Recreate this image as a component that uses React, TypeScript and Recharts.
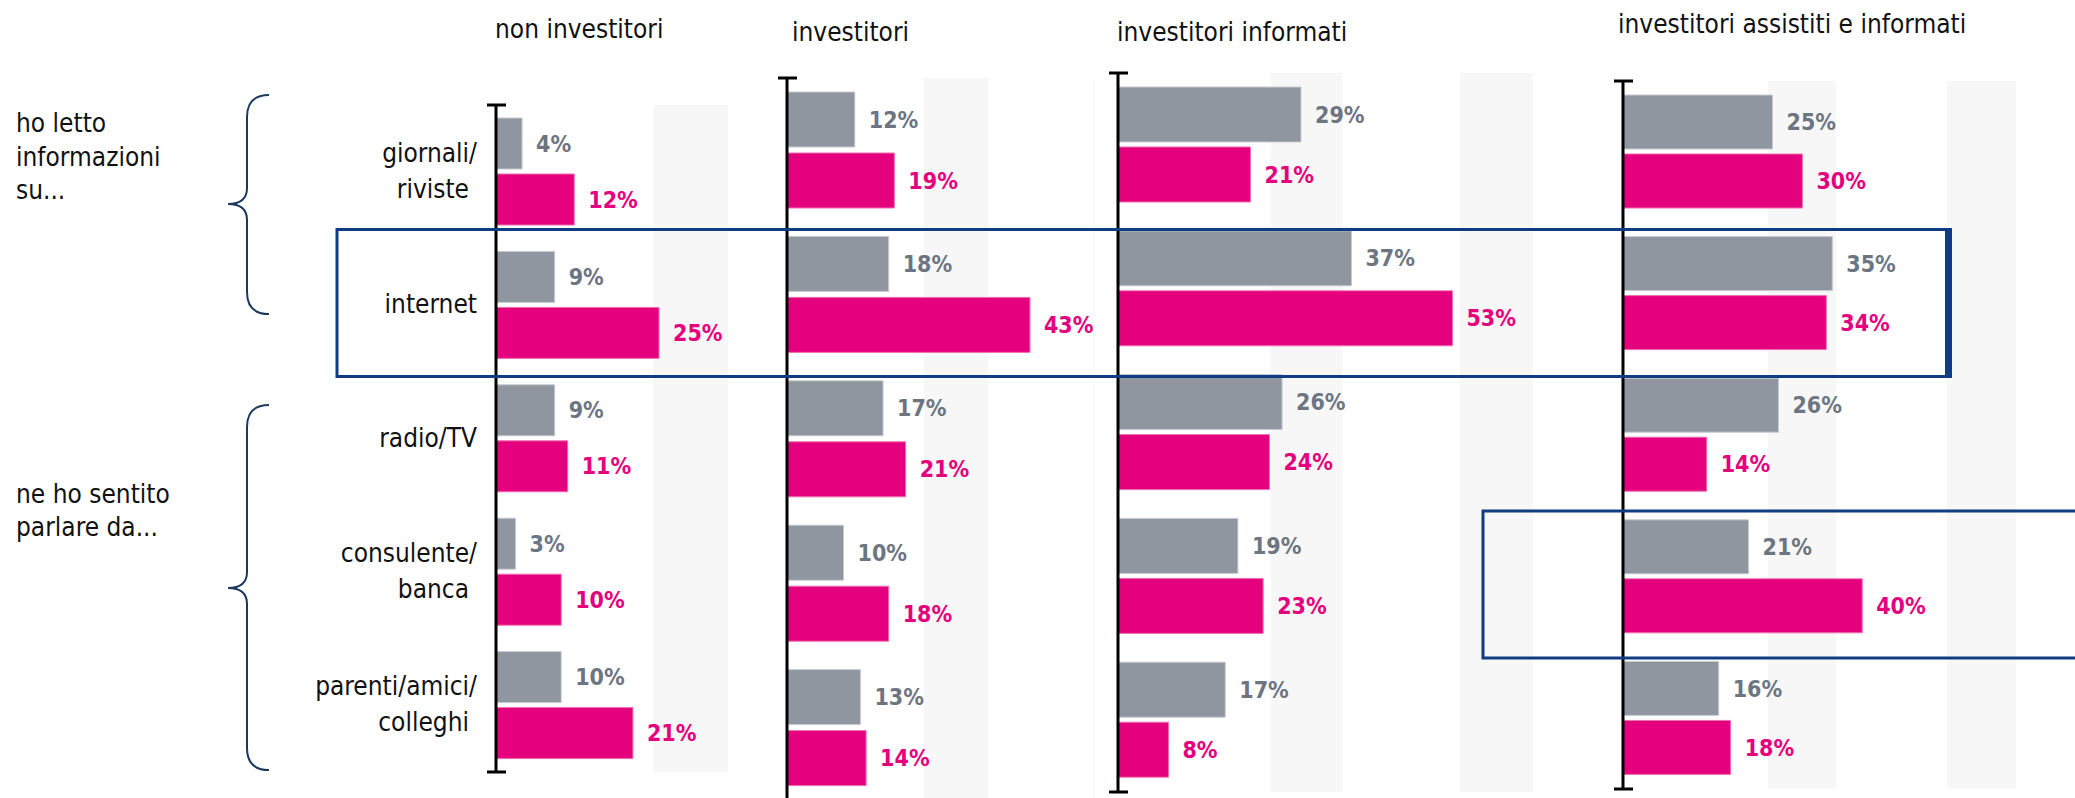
import React from "react";
import { BarChart, Bar, XAxis, YAxis, LabelList, ReferenceArea, usePlotArea } from "recharts";

// categorie (righe) e valori, in %
const categories = [
  "giornali/\nriviste",
  "internet",
  "radio/TV",
  "consulente/\nbanca",
  "parenti/amici/\ncolleghi",
];

const nonInvestitoriGrey = [4, 9, 9, 3, 10];
const nonInvestitoriPink = [12, 25, 11, 10, 21];
const investitoriGrey = [12, 18, 17, 10, 13];
const investitoriPink = [19, 43, 21, 18, 14];
const informatiGrey = [29, 37, 26, 19, 17];
const informatiPink = [21, 53, 24, 23, 8];
const assistitiGrey = [25, 35, 26, 21, 16];
const assistitiPink = [30, 34, 14, 40, 18];

const panelTitles = [
  "non investitori",
  "investitori",
  "investitori informati",
  "investitori assistiti e informati",
];

// fasce grigie di sfondo (in %)
const bands = [
  [24.2, 35.6],
  [54.2, 65.7],
];

const FONT = "'DejaVu Sans Condensed', 'DejaVu Sans', sans-serif";
const GREY = "#8f969f";
const PINK = "#e5007d";
const GREY_TEXT = "#6d7582";
const NAVY = "#0f3c82";

// layout of the four panels (px)
const panels = [
  { grey: nonInvestitoriGrey, pink: nonInvestitoriPink, left: 0, axisX: 496, top: 105, plotH: 667, width: 962, px: 6.52, barSize: 51, gap: 5, ticks: true },
  { grey: investitoriGrey, pink: investitoriPink, left: 760, axisX: 787, top: 78, plotH: 722, width: 428, px: 5.65, barSize: 55, gap: 6, ticks: false },
  { grey: informatiGrey, pink: informatiPink, left: 1094, axisX: 1118, top: 73, plotH: 719, width: 472, px: 6.31, barSize: 55, gap: 5, ticks: false },
  { grey: assistitiGrey, pink: assistitiPink, left: 1540, axisX: 1623, top: 81, plotH: 708, width: 535, px: 5.98, barSize: 54, gap: 5, ticks: false },
];

function AxisCaps() {
  const plot = usePlotArea();
  if (!plot) return null;
  return (
    <g>
      <line x1={plot.x - 9} x2={plot.x + 10} y1={plot.y} y2={plot.y} stroke="#000" strokeWidth={3} />
      <line x1={plot.x - 9} x2={plot.x + 10} y1={plot.y + plot.height} y2={plot.y + plot.height} stroke="#000" strokeWidth={3} />
    </g>
  );
}

function CategoryTick({ x, y, payload }: any) {
  const lines = String(payload.value).split("\n");
  const common = { fontFamily: FONT, fontSize: 26, fill: "#111", textAnchor: "end" as const };
  if (lines.length === 1) {
    return (
      <text x={x} y={y + 8} {...common}>
        {lines[0]}
      </text>
    );
  }
  return (
    <text {...common}>
      <tspan x={x} y={y - 10}>{lines[0]}</tspan>
      <tspan x={x - 8} y={y + 26}>{lines[1]}</tspan>
    </text>
  );
}

function Panel({ cfg }: { cfg: (typeof panels)[number] }) {
  const data = categories.map((cat, i) => ({ cat, grey: cfg.grey[i], pink: cfg.pink[i] }));
  const yAxisWidth = cfg.axisX - cfg.left;
  const marginRight = 4;
  const domainMax = (cfg.width - yAxisWidth - marginRight) / cfg.px;
  const height = cfg.top + cfg.plotH + 20;
  return (
    <div style={{ position: "absolute", left: cfg.left, top: 0, width: cfg.width, height, background: "#fff" }}>
      <BarChart
        layout="vertical"
        width={cfg.width}
        height={height}
        data={data}
        margin={{ top: cfg.top, right: marginRight, bottom: 20, left: 0 }}
        barGap={cfg.gap}
      >
        <XAxis type="number" domain={[0, domainMax]} hide allowDataOverflow />
        <YAxis
          type="category"
          dataKey="cat"
          width={yAxisWidth}
          axisLine={{ stroke: "#000", strokeWidth: 3 }}
          tickLine={false}
          tickSize={0}
          tickMargin={19}
          tick={cfg.ticks ? <CategoryTick /> : false}
          interval={0}
        />
        {bands.map(([a, b]) => (
          <ReferenceArea key={a} x1={a} x2={b} fill="#f7f7f7" fillOpacity={1} stroke="none" />
        ))}
        <Bar dataKey="grey" fill={GREY} stroke="#c7cbd0" strokeWidth={1} barSize={cfg.barSize} isAnimationActive={false}>
          <LabelList
            dataKey="grey"
            position="right"
            offset={14}
            formatter={(v: any) => `${v}%`}
            fill={GREY_TEXT}
            fontSize={23}
            fontWeight={700}
            fontFamily={FONT}
          />
        </Bar>
        <Bar dataKey="pink" fill={PINK} stroke="#ef6fb0" strokeWidth={1} barSize={cfg.barSize} isAnimationActive={false}>
          <LabelList
            dataKey="pink"
            position="right"
            offset={14}
            formatter={(v: any) => `${v}%`}
            fill={PINK}
            fontSize={23}
            fontWeight={700}
            fontFamily={FONT}
          />
        </Bar>
        <AxisCaps />
      </BarChart>
    </div>
  );
}

function Brace({ top, bottom, tip }: { top: number; bottom: number; tip: number }) {
  const x = 247;
  const d = `M 269 ${top} Q ${x} ${top} ${x} ${top + 22} L ${x} ${tip - 16} Q ${x} ${tip} 228 ${tip} Q ${x} ${tip} ${x} ${tip + 16} L ${x} ${bottom - 22} Q ${x} ${bottom} 269 ${bottom}`;
  return <path d={d} fill="none" stroke="#1b3a5c" strokeWidth={2} />;
}

export default function App() {
  const titlePos = [
    { x: 495, y: 38 },
    { x: 792, y: 41 },
    { x: 1117, y: 41 },
    { x: 1618, y: 33 },
  ];
  return (
    <div style={{ position: "absolute", left: 0, top: 0, width: 2075, height: 798, overflow: "hidden", background: "#fff" }}>
      {panels.map((p, i) => (
        <Panel key={i} cfg={p} />
      ))}
      <svg width={2075} height={798} style={{ position: "absolute", left: 0, top: 0, pointerEvents: "none" }}>
        {panelTitles.map((t, i) => (
          <text key={t} x={titlePos[i].x} y={titlePos[i].y} fontFamily={FONT} fontSize={26} fill="#111">
            {t}
          </text>
        ))}
        <g fontFamily={FONT} fontSize={26} fill="#111">
          <text x={16} y={132}>ho letto</text>
          <text x={16} y={166}>informazioni</text>
          <text x={16} y={199}>su...</text>
          <text x={16} y={503}>ne ho sentito</text>
          <text x={16} y={536}>parlare da...</text>
        </g>
        <Brace top={95} bottom={314} tip={204} />
        <Brace top={405} bottom={770} tip={588} />
        <rect x={337} y={229.5} width={1611} height={147} fill="none" stroke={NAVY} strokeWidth={3} />
        <line x1={1948.5} x2={1948.5} y1={228} y2={378} stroke={NAVY} strokeWidth={7} />
        <rect x={1483} y={511} width={700} height={147} fill="none" stroke={NAVY} strokeWidth={3} />
      </svg>
    </div>
  );
}
